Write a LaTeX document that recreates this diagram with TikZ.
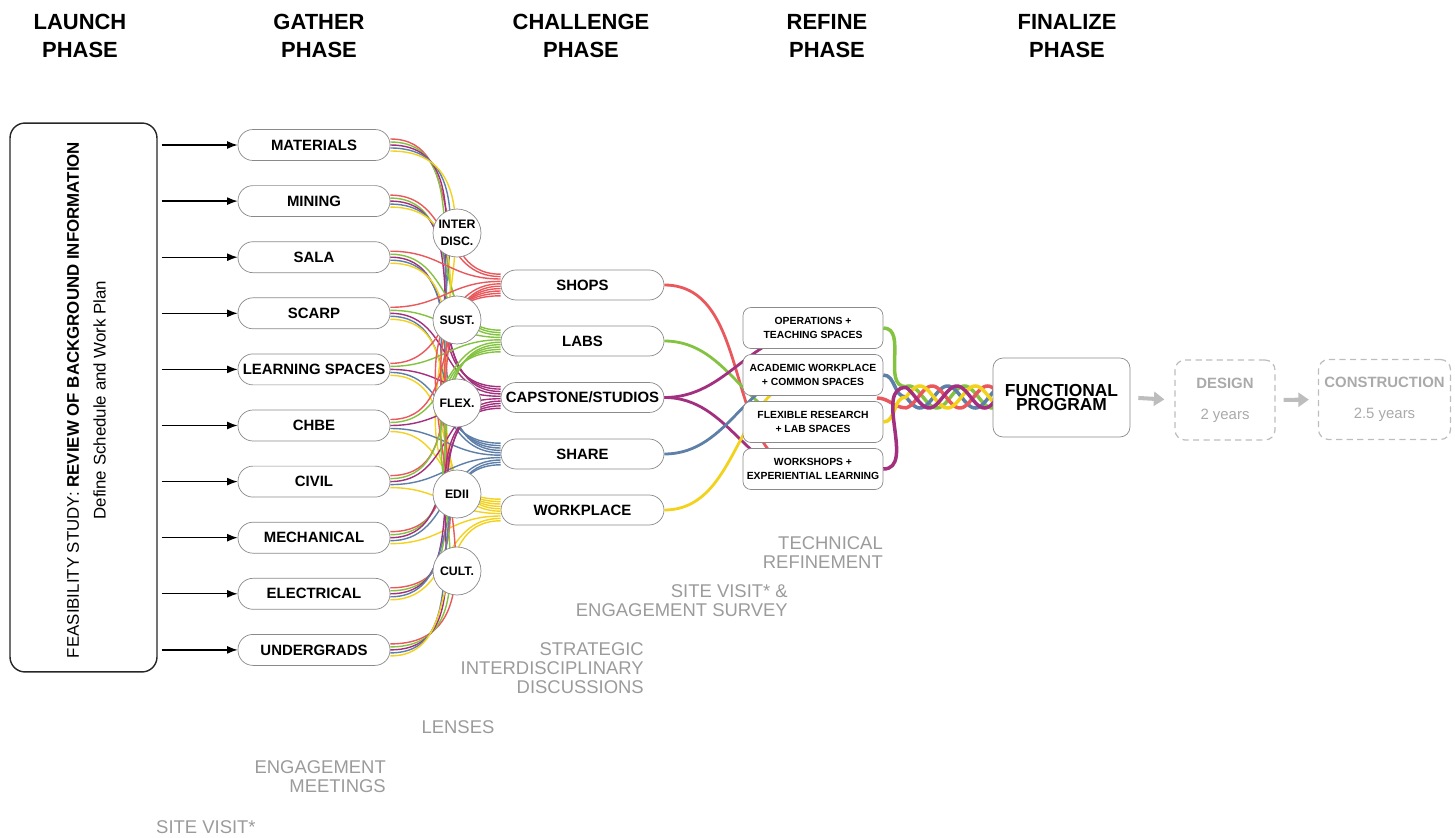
\documentclass[tikz,border=0pt]{standalone}
\usepackage{fontspec}
\setmainfont{Liberation Sans}
\usetikzlibrary{arrows.meta}
\definecolor{cred}{HTML}{E9585C}
\definecolor{cgreen}{HTML}{84C341}
\definecolor{cpurple}{HTML}{A3307E}
\definecolor{cblue}{HTML}{5E7FA8}
\definecolor{cyellow}{HTML}{F3D21E}
\definecolor{edgegray}{HTML}{8A8A8A}
\definecolor{notegray}{HTML}{9B9B9B}
\definecolor{faint}{HTML}{BDBDBD}
\tikzset{
  phasehead/.style = {align=center, font=\fontsize{12.5}{15.9}\selectfont\bfseries},
  launchbox/.style = {draw=black!85, line width=0.8pt, rounded corners=0.3cm, minimum width=2.94cm, minimum height=10.98cm},
  gnode/.style = {draw=edgegray, fill=white, rounded corners=0.3cm, minimum width=3.04cm, minimum height=0.62cm, inner sep=1pt, font=\fontsize{8.5}{10}\selectfont\bfseries},
  cnode/.style = {gnode, minimum width=3.26cm, minimum height=0.6cm},
  lens/.style = {circle, draw=edgegray, fill=white, minimum size=0.96cm, inner sep=0pt, align=center, font=\fontsize{7}{10}\selectfont\bfseries},
  rnode/.style = {draw=edgegray, fill=white, rounded corners=0.16cm, minimum width=2.8cm, minimum height=0.82cm, inner sep=1pt, align=center, font=\fontsize{5.9}{8}\selectfont\bfseries},
  fnode/.style = {draw=edgegray, fill=white, rounded corners=0.2cm, minimum width=2.74cm, minimum height=1.58cm, align=center, font=\fontsize{9.9}{8.5}\selectfont\bfseries},
  later/.style = {draw=faint, dash pattern=on 3.5pt off 2.5pt, line width=0.7pt, rounded corners=0.2cm, minimum height=1.6cm, align=center, text=faint!90!black, font=\fontsize{8.5}{10}\selectfont},
  feed/.style = {-{Latex[length=6pt,width=4.5pt]}, line width=0.7pt, shorten <=0.08cm},
  onward/.style = {-{Triangle[length=6pt,width=8pt]}, draw=faint, line width=2.3pt},
  strand/.style = {line width=0.8pt},
  link/.style = {line width=1.6pt},
  braid/.style = {line width=2pt},
  remark/.style = {text=notegray, align=right, font=\fontsize{10.5}{10.8}\selectfont},
}
\begin{document}
\begin{tikzpicture}[x=0.02cm, y=-0.02cm]
\useasboundingbox (0,0) rectangle (1455,838);

% phase headings
\node [phasehead] (hlaunch) at (80,36) {LAUNCH\\PHASE};
\node [phasehead] (hgather) at (319,36) {GATHER\\PHASE};
\node [phasehead] (hchall) at (581,36) {CHALLENGE\\PHASE};
\node [phasehead] (hrefine) at (827,36) {REFINE\\PHASE};
\node [phasehead] (hfinal) at (1067,36) {FINALIZE\\PHASE};

% launch
\node [launchbox] (launch) at (83.5,397.5) {};
\node [rotate=90, align=center, font=\fontsize{9.6}{15.3}\selectfont] (launchtext) at (86.5,400)
  {FEASIBILITY STUDY: \textbf{REVIEW OF BACKGROUND INFORMATION}\\Define Schedule and Work Plan};

% gather
\foreach \lbl [count=\i] in {MATERIALS,MINING,SALA,SCARP,LEARNING SPACES,CHBE,CIVIL,MECHANICAL,ELECTRICAL,UNDERGRADS}
  \node [gnode] (g\i) at (314,{145+56.1*(\i-1)}) {\lbl};
\foreach \i in {1,...,10}
  \draw [feed] (launch.east |- g\i) -- (g\i.west);

% challenge
\node [cnode] (c1) at (582.5,285) {SHOPS};
\node [cnode] (c2) at (582.5,341) {LABS};
\node [cnode] (c3) at (582.5,397.5) {CAPSTONE/STUDIOS};
\node [cnode] (c4) at (582.5,454) {SHARE};
\node [cnode] (c5) at (582.5,510) {WORKPLACE};

% tangle through the lenses
\foreach \i in {1,...,10}
  \foreach \col [count=\j] in {cred,cgreen,cpurple,cblue,cyellow}
    \draw [strand, \col] ([yshift={(3-\j)*0.06cm}]g\i.east) to[out=0,in=180,looseness=1.15] ([yshift={(5.5-\i)*0.048cm}]c\j.west);

\node [lens] (l1) at (457,233) {INTER\\DISC.};
\node [lens] (l2) at (457,320) {SUST.};
\node [lens] (l3) at (457,403) {FLEX.};
\node [lens] (l4) at (457,494) {EDII};
\node [lens] (l5) at (457,571) {CULT.};

% refine
\draw [link, cred] (c1.east) to[out=0,in=180] ([yshift=-0.06cm]813,469);
\draw [link, cgreen] (c2.east) to[out=0,in=180] ([yshift=-0.06cm]813,422);
\draw [link, cpurple] (c3.east) to[out=0,in=180] ([yshift=-0.08cm]813,328);
\draw [link, cpurple] (c3.east) to[out=0,in=180] ([yshift=-0.18cm]813,469);
\draw [link, cblue] (c4.east) to[out=0,in=180] ([yshift=0.1cm]813,375);
\draw [link, cyellow] (c5.east) to[out=0,in=180] ([yshift=-0.04cm]813,375);

\node [rnode] (r1) at (813,328) {OPERATIONS +\\TEACHING SPACES};
\node [rnode] (r2) at (813,375) {ACADEMIC WORKPLACE\\+ COMMON SPACES};
\node [rnode] (r3) at (813,422) {FLEXIBLE RESEARCH\\+ LAB SPACES};
\node [rnode] (r4) at (813,469) {WORKSHOPS +\\EXPERIENTIAL LEARNING};

% braid into the program
\coordinate (redsrc) at (877,398);
\foreach \src/\col/\ph in {r1.east/cgreen/250, r2.east/cblue/0, redsrc/cred/100, r3.east/cyellow/180, r4.east/cpurple/300}
  \draw [braid, \col] (\src) to[out=0,in=180] (906,{397+11*sin(\ph)})
    -- plot[domain=906:995, samples=60, smooth] (\x,{397+11*sin(6.5*(\x-906)+\ph)});

\node [fnode] (fp) at (1061.5,397.5) {FUNCTIONAL\\PROGRAM};
\node [later, minimum width=2cm] (design) at (1225,400) {\textbf{DESIGN}\\[7.5pt]2 years};
\node [later, minimum width=2.54cm] (build) at (1384.5,399.5) {\textbf{CONSTRUCTION}\\[7.5pt]2.5 years};
\draw [onward, shorten <=0.16cm, shorten >=0.2cm] (fp.east) -- (design.west);
\draw [onward, shorten <=0.16cm, shorten >=0.18cm] (design.east) -- (build.west);

% process notes
\node [remark, anchor=east] (ntech) at (889,552.5) {TECHNICAL\\REFINEMENT};
\node [remark, anchor=east] (nsurvey) at (794,601) {SITE VISIT* \&\\ENGAGEMENT SURVEY};
\node [remark, anchor=east] (nstrat) at (650,668) {STRATEGIC\\INTERDISCIPLINARY\\DISCUSSIONS};
\node [remark] (nlens) at (458,727) {LENSES};
\node [remark, anchor=east] (nmeet) at (392,777) {ENGAGEMENT\\MEETINGS};
\node [remark, anchor=west] (nsite) at (150,827) {SITE VISIT*};
\end{tikzpicture}
\end{document}
